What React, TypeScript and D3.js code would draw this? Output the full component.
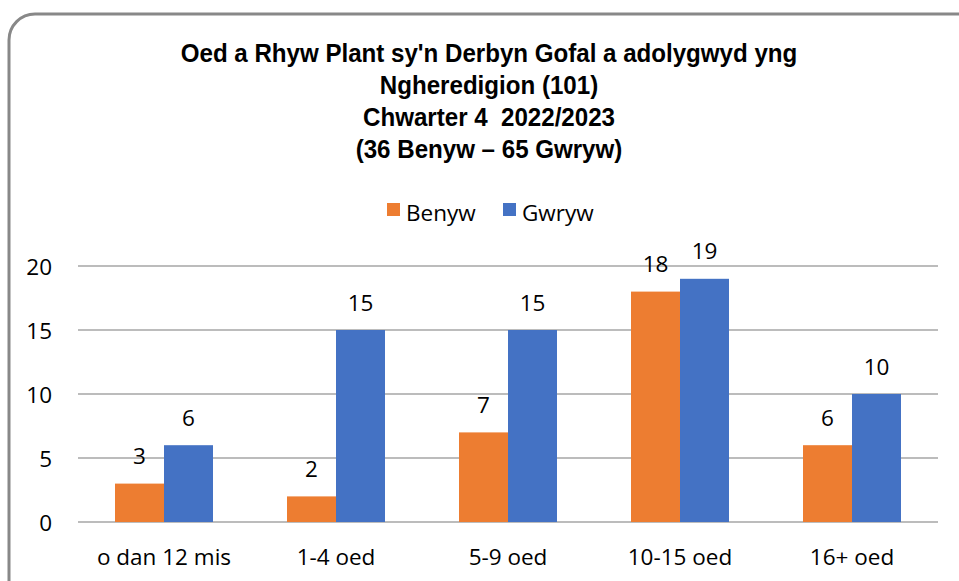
import React from "react";
import * as d3 from "d3";

const categories = ["o dan 12 mis", "1-4 oed", "5-9 oed", "10-15 oed", "16+ oed"];
const seriesNames = ["Benyw", "Gwryw"];
const benyw = [3, 2, 7, 18, 6];
const gwryw = [6, 15, 15, 19, 10];
const yTicks = [0, 5, 10, 15, 20];
const titleLines = [
  "Oed a Rhyw Plant sy'n Derbyn Gofal a adolygwyd yng",
  "Ngheredigion (101)",
  "Chwarter 4  2022/2023",
  "(36 Benyw \u2013 65 Gwryw)",
];
const colors = ["#ED7D31", "#4472C4"];

const W = 959;
const H = 581;
const plot = { left: 78, right: 938, top: 266, bottom: 522 };
const bodyFont = "'Open Sans', sans-serif";
const titleFont = "'Liberation Sans', Arial, sans-serif";

export default function App() {
  const x = d3.scaleBand<string>().domain(categories).range([plot.left, plot.right]);
  const y = d3.scaleLinear().domain([0, 20]).range([plot.bottom, plot.top]);
  const barW = 49;
  const series = [benyw, gwryw];
  const fs = 22.5;

  return (
    <svg width={W} height={H} style={{ position: "absolute", left: 0, top: 0 }}>
      <rect x={0} y={0} width={W} height={H} fill="#fff" />
      <rect x={9} y={14} width={990} height={620} rx={26} ry={26} fill="#fff" stroke="#888" strokeWidth={3} />
      <g transform="translate(489,0) scale(0.965,1)">
        {titleLines.map((t, i) => (
          <text key={i} x={0} y={53 + i * 32} textAnchor="middle" dominantBaseline="central"
            fontFamily={titleFont} fontWeight="bold" fontSize={25} fill="#000" style={{ whiteSpace: "pre" }}>{t}</text>
        ))}
      </g>
      {/* legend */}
      {seriesNames.map((n, i) => {
        const lx = [387, 503][i];
        return (
          <g key={n}>
            <rect x={lx} y={203} width={13} height={13} fill={colors[i]} />
            <text x={lx + 19} y={212} dominantBaseline="central" fontFamily={bodyFont} fontSize={fs} fill="#000">{n}</text>
          </g>
        );
      })}
      {/* grid */}
      {yTicks.map((t) => (
        <g key={t}>
          <line x1={plot.left} x2={plot.right} y1={y(t)} y2={y(t)} stroke="#a6a6a6" strokeWidth={1.3} />
          <text x={52} y={y(t)} textAnchor="end" dominantBaseline="central" fontFamily={bodyFont} fontSize={fs} fill="#000">{t}</text>
        </g>
      ))}
      {/* bars */}
      {categories.map((c, ci) => {
        const cx = (x(c) as number) + x.bandwidth() / 2;
        return series.map((s, si) => {
          const bx = si === 0 ? cx - barW : cx;
          return (
            <g key={c + si}>
              <rect x={bx} y={y(s[ci])} width={barW} height={y(0) - y(s[ci])} fill={colors[si]} />
              <text x={bx + barW / 2} y={y(s[ci]) - 28} textAnchor="middle" dominantBaseline="central"
                fontFamily={bodyFont} fontSize={fs} fill="#000">{s[ci]}</text>
            </g>
          );
        });
      })}
      {/* category labels */}
      {categories.map((c) => (
        <text key={c} x={(x(c) as number) + x.bandwidth() / 2} y={556} textAnchor="middle" dominantBaseline="central"
          fontFamily={bodyFont} fontSize={fs} fill="#000">{c}</text>
      ))}
    </svg>
  );
}
